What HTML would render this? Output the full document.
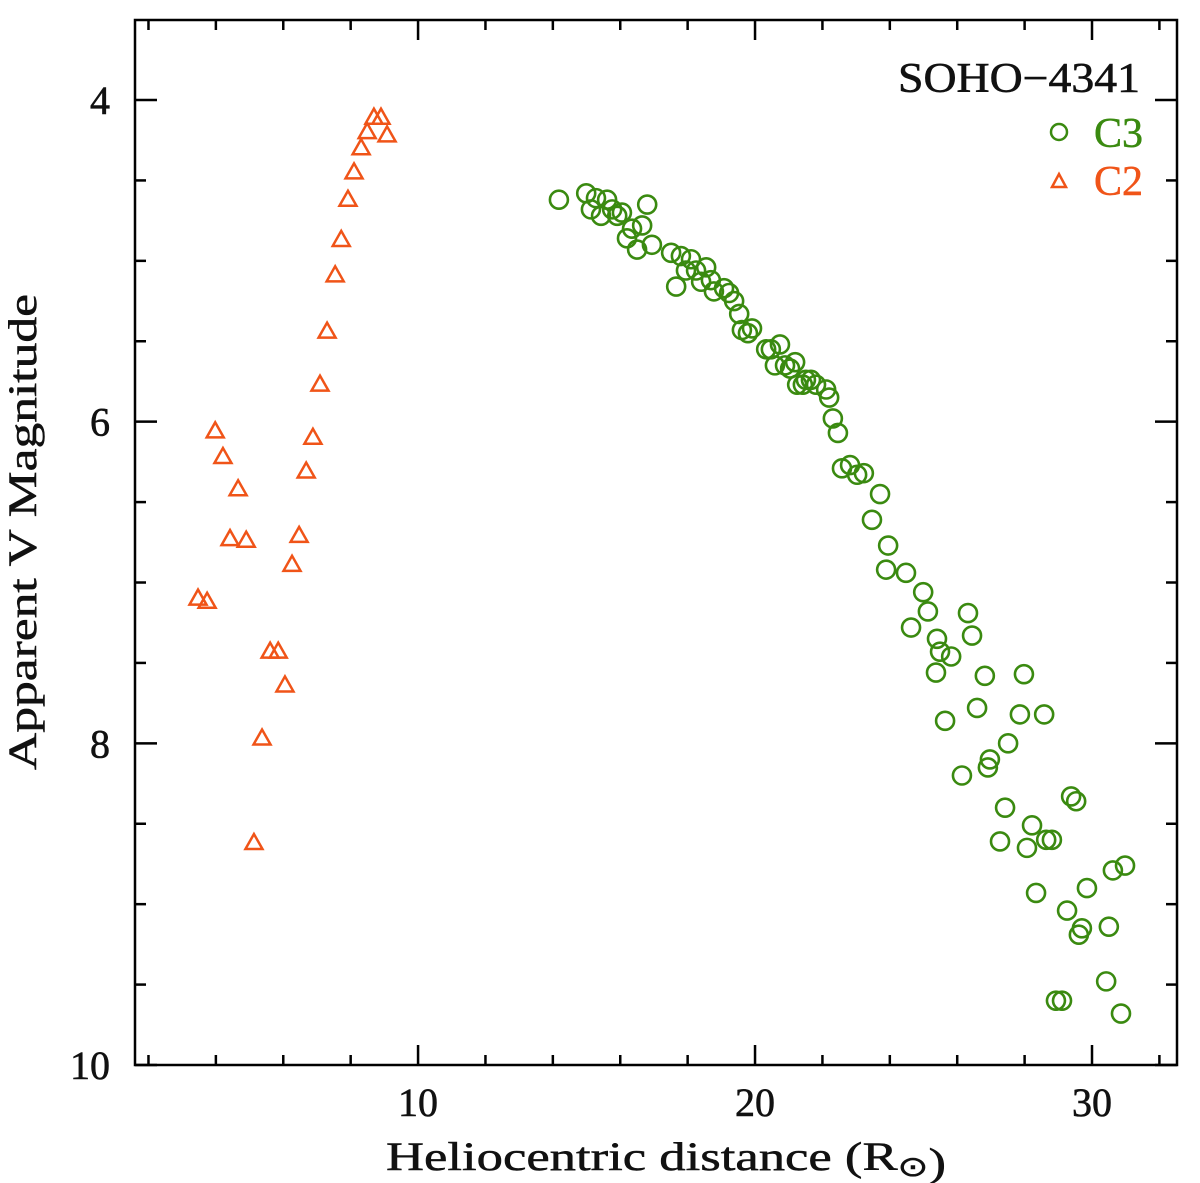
<!DOCTYPE html>
<html><head><meta charset="utf-8"><style>
html,body{margin:0;padding:0;background:#fff;}
svg{display:block;font-family:"Liberation Serif",serif;}
</style></head><body>
<svg id="chart" width="1200" height="1183" viewBox="0 0 1200 1183">
<rect x="0" y="0" width="1200" height="1183" fill="#fff"/>
<g id="axes"></g>
<g id="c2"></g>
<g id="c3"></g>
<text x="1140" y="92" text-anchor="end" font-size="42" textLength="242" lengthAdjust="spacingAndGlyphs" fill="#111" stroke="#111" stroke-width="0.6">SOHO−4341</text>
<circle cx="1059" cy="132" r="8" fill="none" stroke="#3a8a10" stroke-width="2.5"/>
<text x="1143" y="147" text-anchor="end" font-size="42" fill="#3a8a10" stroke="#3a8a10" stroke-width="0.5">C3</text>
<polygon points="1052,187 1066,187 1059,174" fill="none" stroke="#f05418" stroke-width="2.5"/>
<text x="1143" y="195" text-anchor="end" font-size="42" fill="#f05418" stroke="#f05418" stroke-width="0.5">C2</text>
<text x="666" y="1170" text-anchor="middle" font-size="40" fill="#111" stroke="#111" stroke-width="0.5" textLength="560" lengthAdjust="spacingAndGlyphs">Heliocentric distance (R<tspan font-size="28" dy="6">⊙</tspan>)</text>
<text transform="translate(36,532) rotate(-90)" text-anchor="middle" font-size="40" fill="#111" stroke="#111" stroke-width="0.5" textLength="476" lengthAdjust="spacingAndGlyphs">Apparent V Magnitude</text>
</svg>
<script>
const c2X=[3.47,3.74,3.98,4.21,4.42,4.66,4.90,5.13,5.37,5.61,5.85,6.05,6.26,6.47,6.68,6.88,7.09,7.30,7.54,7.72,7.92,8.10,8.31,8.49,8.69,8.90,9.08];
const c2Y=[7.10,7.12,6.06,6.22,6.73,6.42,6.74,8.62,7.97,7.43,7.43,7.64,6.89,6.71,6.31,6.10,5.77,5.44,5.09,4.87,4.62,4.45,4.30,4.20,4.11,4.11,4.22];
const c3X=[14.18,14.99,15.13,15.28,15.43,15.61,15.76,15.91,16.05,16.20,16.35,16.50,16.65,16.80,16.94,17.51,17.66,17.80,17.95,18.10,18.25,18.40,18.55,18.69,18.78,19.08,19.23,19.38,19.53,19.61,19.79,19.91,20.33,20.47,20.59,20.74,20.89,21.04,21.19,21.25,21.42,21.51,21.66,21.81,22.11,22.20,22.31,22.46,22.58,22.82,23.03,23.23,23.47,23.71,23.95,23.89,24.48,24.63,24.99,25.13,25.40,25.49,25.37,25.64,25.82,26.14,26.32,26.44,26.82,26.59,26.97,26.91,27.51,27.42,27.27,27.86,27.98,28.07,28.22,28.34,28.58,28.64,28.81,28.93,29.11,29.26,29.38,29.53,29.61,29.70,29.85,30.42,30.50,30.62,30.86,30.98];
const c3Y=[4.62,4.58,4.68,4.61,4.72,4.62,4.68,4.72,4.70,4.86,4.80,4.93,4.78,4.65,4.90,4.95,5.16,4.97,5.06,4.99,5.06,5.13,5.04,5.12,5.19,5.17,5.20,5.25,5.33,5.43,5.45,5.42,5.55,5.55,5.65,5.52,5.65,5.67,5.63,5.77,5.77,5.74,5.74,5.77,5.80,5.85,5.98,6.07,6.29,6.27,6.33,6.32,6.61,6.45,6.77,6.92,6.94,7.28,7.06,7.18,7.35,7.43,7.56,7.86,7.46,8.20,7.19,7.33,7.58,7.78,8.10,8.15,8.00,8.40,8.61,7.82,7.57,8.65,8.51,8.93,7.82,8.60,8.60,9.60,9.60,9.04,8.33,8.36,9.19,9.15,8.90,9.48,9.14,8.79,9.68,8.76];
const xTickLabels=["10","20","30"];
const xTickVals=[10,20,30];
const yTickLabels=["4","6","8","10"];
const yTickVals=[4,6,8,10];

const L=135,R=1177,T=20,B=1065;
const xMin=1.6,xMax=10+(R-418)/33.7,yMin=4-80/160.8,yMax=10;
const sx=v=>L+(v-xMin)/(xMax-xMin)*(R-L);
const sy=v=>T+(v-yMin)/(yMax-yMin)*(B-T);
const NS="http://www.w3.org/2000/svg";
function mk(tag,attrs,parent){const e=document.createElementNS(NS,tag);for(const k in attrs)e.setAttribute(k,attrs[k]);parent.appendChild(e);return e;}
const ax=document.getElementById('axes');
let fr=mk('rect',{x:L,y:T,width:R-L,height:B-T,fill:'none',stroke:'#000','stroke-width':2.5},ax);


for(let v=2;v<=32;v+=2){
  const major=v%10===0,len=major?20:10,x=sx(v);
  let t1=mk('line',{x1:x,x2:x,y1:B,y2:B-len,stroke:'#000','stroke-width':2.5},ax);
  
  
  let t2=mk('line',{x1:x,x2:x,y1:T,y2:T+len,stroke:'#000','stroke-width':2.5},ax);
  
  
}
for(let v=4;v<=10.001;v+=0.5){
  const major=Math.abs(v-Math.round(v))<1e-6&&Math.round(v)%2===0,len=major?22:11,y=sy(v);
  let t1=mk('line',{x1:L,x2:L+len,y1:y,y2:y,stroke:'#000','stroke-width':2.5},ax);
  
  
  let t2=mk('line',{x1:R,x2:R-len,y1:y,y2:y,stroke:'#000','stroke-width':2.5},ax);
  
  
}
xTickLabels.forEach((s,i)=>{
  const t=mk('text',{x:sx(xTickVals[i]),y:1116,'text-anchor':'middle','font-size':40,fill:'#111',stroke:'#111','stroke-width':0.6},ax);
  t.textContent=s;
  
  
});
yTickLabels.forEach((s,i)=>{
  const t=mk('text',{x:110,y:sy(yTickVals[i])+14,'text-anchor':'end','font-size':40,fill:'#111',stroke:'#111','stroke-width':0.6},ax);
  t.textContent=s;
  
  
});
const g2=document.getElementById('c2');
c2X.forEach((xv,i)=>{
  const x=sx(xv),y=sy(c2Y[i]);
  const p=mk('polygon',{points:`${x-8.5},${y+6} ${x+8.5},${y+6} ${x},${y-9}`,fill:'none',stroke:'#f05418','stroke-width':2.5},g2);
  
  
});
const g3=document.getElementById('c3');
c3X.forEach((xv,i)=>{
  const c=mk('circle',{cx:sx(xv),cy:sy(c3Y[i]),r:9,fill:'none',stroke:'#3a8a10','stroke-width':2.6},g3);
  
  
});
</script>
</body></html>
